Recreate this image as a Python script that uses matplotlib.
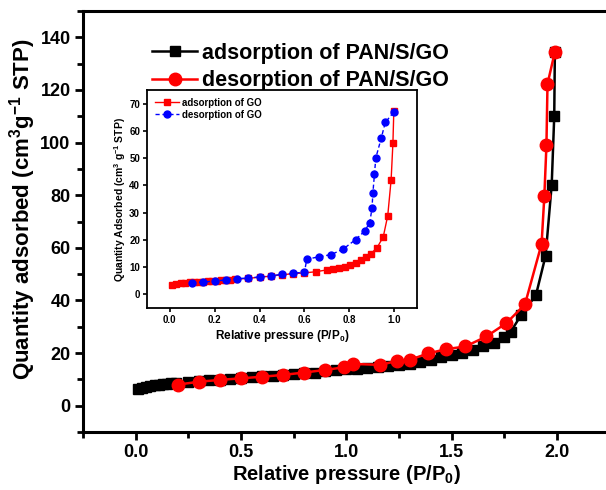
import matplotlib
matplotlib.use('Agg')
import matplotlib.pyplot as plt

# Main isotherm (PAN/S/GO).
pan_ads_x = [0.01, 0.03, 0.05, 0.07, 0.09, 0.11, 0.13, 0.15, 0.17, 0.19, 0.25, 0.30, 0.35, 0.40, 0.45,
             0.50, 0.55, 0.60, 0.65, 0.70, 0.75, 0.80, 0.85, 0.90, 0.95, 1.00, 1.05, 1.10, 1.15, 1.20,
             1.25, 1.30, 1.35, 1.40, 1.45, 1.50, 1.55, 1.60, 1.65, 1.70, 1.75, 1.78, 1.83, 1.90, 1.946,
             1.975, 1.987, 1.99]
pan_ads_y = [6.2, 6.8, 7.2, 7.5, 7.8, 8.0, 8.2, 8.4, 8.6, 8.7, 9.0, 9.3, 9.6, 9.9, 10.2,
             10.5, 10.8, 11.1, 11.4, 11.7, 12.0, 12.3, 12.6, 13.0, 13.4, 13.8, 14.1, 14.4, 14.7, 15.0,
             15.5, 16.0, 16.6, 17.5, 18.5, 19.3, 20.2, 21.2, 22.5, 24.0, 26.0, 28.0, 34.5, 42.0, 57.0,
             84.0, 110.0, 134.5]
pan_des_x = [0.20, 0.30, 0.40, 0.50, 0.60, 0.70, 0.80, 0.90, 0.99, 1.03, 1.16, 1.24, 1.30, 1.39, 1.475,
             1.565, 1.665, 1.76, 1.848, 1.927, 1.94, 1.95, 1.955, 1.99]
pan_des_y = [8.0, 9.1, 9.8, 10.4, 11.0, 11.7, 12.6, 13.6, 14.6, 15.9, 15.5, 17.0, 17.4, 19.9, 21.5,
             22.5, 26.3, 31.4, 38.5, 61.5, 79.6, 99.0, 122.3, 134.5]

# Inset isotherm (GO).
go_ads_x = [0.01, 0.03, 0.05, 0.07, 0.09, 0.11, 0.13, 0.15, 0.17, 0.19, 0.21, 0.23, 0.25, 0.27, 0.29,
            0.35, 0.40, 0.45, 0.50, 0.55, 0.60, 0.65, 0.70, 0.726, 0.753, 0.778, 0.803, 0.827, 0.852,
            0.874, 0.896, 0.923, 0.95, 0.97, 0.985, 0.993, 0.997]
go_ads_y = [3.3, 3.8, 4.0, 4.2, 4.4, 4.5, 4.6, 4.7, 4.8, 4.9, 5.0, 5.1, 5.2, 5.35, 5.5,
            5.9, 6.3, 6.7, 7.2, 7.6, 7.9, 8.3, 9.0, 9.2, 9.7, 10.2, 10.7, 11.5, 12.6,
            13.8, 15.0, 17.2, 21.1, 28.9, 42.0, 55.5, 67.3]
go_des_x = [0.10, 0.15, 0.20, 0.25, 0.30, 0.35, 0.40, 0.45, 0.50, 0.55, 0.60, 0.61, 0.664, 0.719,
            0.773, 0.827, 0.867, 0.89, 0.90, 0.904, 0.911, 0.917, 0.941, 0.959, 0.996]
go_des_y = [4.3, 4.5, 4.9, 5.3, 5.8, 6.0, 6.4, 6.8, 7.4, 7.7, 8.2, 12.9, 13.8, 14.6,
            16.7, 20.1, 23.2, 26.3, 31.6, 37.2, 44.2, 50.1, 57.3, 63.1, 66.8]

plt.rcParams['font.family'] = ['Liberation Sans', 'DejaVu Sans']
plt.rcParams['font.weight'] = 'bold'
plt.rcParams['axes.labelweight'] = 'bold'
plt.rcParams['mathtext.fontset'] = 'custom'
plt.rcParams['mathtext.rm'] = 'Liberation Sans:bold'
plt.rcParams['mathtext.default'] = 'rm'

figure = plt.figure(figsize=(6.06, 4.90), dpi=100)

# The main axes (the right spine runs just off the canvas, as in the original).
axes = figure.add_axes([0.137, 0.1184, 0.869, 0.859])
axes.plot(pan_ads_x, pan_ads_y, color='black', marker='s', markersize=7, linewidth=1.8,
          label='adsorption of PAN/S/GO', zorder=3)
axes.plot(pan_des_x, pan_des_y, color='red', marker='o', markersize=9, linewidth=1.8,
          label='desorption of PAN/S/GO', zorder=4)
axes.set_xlim(-0.25, 2.25)
axes.set_ylim(-10, 150)
axes.set_xticks([0.0, 0.5, 1.0, 1.5, 2.0])
axes.set_xticks([-0.25, 0.25, 0.75, 1.25, 1.75, 2.25], minor=True)
axes.set_yticks(range(0, 141, 20))
axes.set_yticks(range(-10, 151, 20), minor=True)
axes.set_xticklabels(['0.0', '0.5', '1.0', '1.5', '2.0'])
axes.tick_params(which='both', direction='out', width=2, labelsize=13, top=False, right=False)
axes.tick_params(which='major', length=6)
axes.tick_params(axis='x', which='major', pad=3)
axes.tick_params(axis='y', which='major', pad=3)
axes.tick_params(which='minor', length=4)
for spine in axes.spines.values():
    spine.set_linewidth(2.2)
axes.set_xlabel('Relative pressure (P/P$_0$)', fontsize=14.5, labelpad=1)
axes.set_ylabel('Quantity adsorbed (cm$^3$g$^{-1}$ STP)', fontsize=16, labelpad=0)
axes.yaxis.set_label_coords(-0.085, 0.53)
axes.legend(loc='upper left', bbox_to_anchor=(0.115, 0.945), frameon=False, fontsize=15.5,
            handlelength=2.1, handletextpad=0.2, labelspacing=0.3, borderaxespad=0)

# The inset for GO.
inset = figure.add_axes([0.2426, 0.3714, 0.4455, 0.4449])
inset.plot(go_ads_x, go_ads_y, color='red', marker='s', markersize=4.5, linewidth=1.0,
           linestyle='-', label='adsorption of GO')
inset.plot(go_des_x, go_des_y, color='blue', marker='o', markersize=5, linewidth=1.0,
           linestyle='--', dashes=(3, 2), label='desorption of GO')
inset.set_xlim(-0.1, 1.1)
inset.set_ylim(-5, 75)
inset.set_xticks([0.0, 0.2, 0.4, 0.6, 0.8, 1.0])
inset.set_yticks(range(0, 71, 10))
inset.tick_params(direction='out', width=1.2, length=3, labelsize=7, pad=2, top=False, right=False)
for spine in inset.spines.values():
    spine.set_linewidth(1.3)
inset.set_xlabel('Relative pressure (P/P$_0$)', fontsize=8.5, labelpad=2)
inset.set_ylabel('Quantity Adsorbed (cm$^3$ g$^{-1}$ STP)', fontsize=7.5, labelpad=1)
inset.legend(loc='upper left', frameon=False, fontsize=7, handlelength=2.5, handletextpad=0.3,
             labelspacing=0.2, borderaxespad=0.4)

figure.savefig('out.png', dpi=100)
